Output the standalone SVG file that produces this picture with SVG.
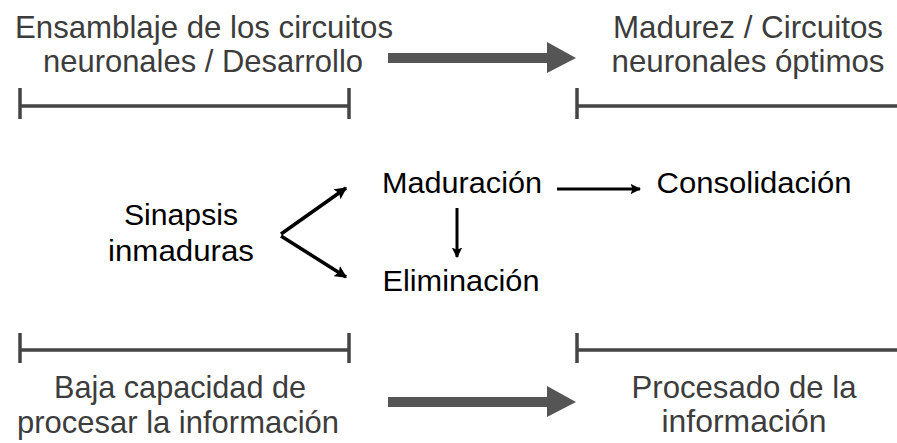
<svg xmlns="http://www.w3.org/2000/svg" width="897" height="443" viewBox="0 0 897 443">
<style>
.t{font-family:"Liberation Sans",Arial,sans-serif;font-size:32px;fill:#3c3c3c;text-anchor:middle}
.m{font-family:"Liberation Sans",Arial,sans-serif;font-size:30px;fill:#000;text-anchor:middle}
.br{stroke:#444;stroke-width:3.5;fill:none}
.fat{fill:#555}
.ar{stroke:#000;stroke-width:3.5;fill:none}
</style>
<defs>
<marker id="ah" viewBox="0 0 10 10" refX="9" refY="5" markerWidth="3.5" markerHeight="3.5" orient="auto" markerUnits="strokeWidth">
<path d="M0,0 L10,5 L0,10 L2,5 Z" fill="#000"/>
</marker>
</defs>
<g id="top-left">
<text class="t" x="204" y="38" textLength="378" lengthAdjust="spacingAndGlyphs">Ensamblaje de los circuitos</text>
<text class="t" x="203" y="72" textLength="320" lengthAdjust="spacingAndGlyphs">neuronales / Desarrollo</text>
<path class="br" d="M20,88 V119 M20,106 H349 M349,88 V119"/>
</g>
<g id="top-right">
<text class="t" x="748" y="38" textLength="270" lengthAdjust="spacingAndGlyphs">Madurez / Circuitos</text>
<text class="t" x="748" y="72" textLength="273" lengthAdjust="spacingAndGlyphs">neuronales óptimos</text>
<path class="br" d="M577,88 V119 M577,106 H897"/>
</g>
<g id="sinapsis">
<text class="m" x="181" y="225" textLength="114" lengthAdjust="spacingAndGlyphs">Sinapsis</text>
<text class="m" x="181" y="261" textLength="146" lengthAdjust="spacingAndGlyphs">inmaduras</text>
</g>
<g id="maduracion"><text class="m" x="462" y="193" textLength="160" lengthAdjust="spacingAndGlyphs">Maduración</text></g>
<g id="consolidacion"><text class="m" x="754" y="193" textLength="195" lengthAdjust="spacingAndGlyphs">Consolidación</text></g>
<g id="eliminacion"><text class="m" x="461" y="291" textLength="157" lengthAdjust="spacingAndGlyphs">Eliminación</text></g>
<g id="bottom-left">
<path class="br" d="M20,333 V363 M20,350 H349 M349,333 V363"/>
<text class="t" x="180" y="398" textLength="252" lengthAdjust="spacingAndGlyphs">Baja capacidad de</text>
<text class="t" x="178" y="433" textLength="322" lengthAdjust="spacingAndGlyphs">procesar la información</text>
</g>
<g id="bottom-right">
<path class="br" d="M577,333 V363 M577,350 H897"/>
<text class="t" x="744" y="398" textLength="225" lengthAdjust="spacingAndGlyphs">Procesado de la</text>
<text class="t" x="744" y="432" textLength="165" lengthAdjust="spacingAndGlyphs">información</text>
</g>
<g id="connectors">
<path class="fat" d="M388,53 H547 V42 L576,58 L547,73 V63 H388 Z"/>
<path class="fat" d="M388,397 H547 V386 L576,402 L547,417 V407 H388 Z"/>
<line class="ar" x1="281" y1="234" x2="346" y2="188" marker-end="url(#ah)"/>
<line class="ar" x1="281" y1="236" x2="346" y2="277" marker-end="url(#ah)"/>
<line class="ar" x1="557" y1="189" x2="640" y2="189" marker-end="url(#ah)" style="stroke-width:3"/>
<line class="ar" x1="457" y1="208" x2="457" y2="257" marker-end="url(#ah)" style="stroke-width:3"/>
</g>
</svg>
